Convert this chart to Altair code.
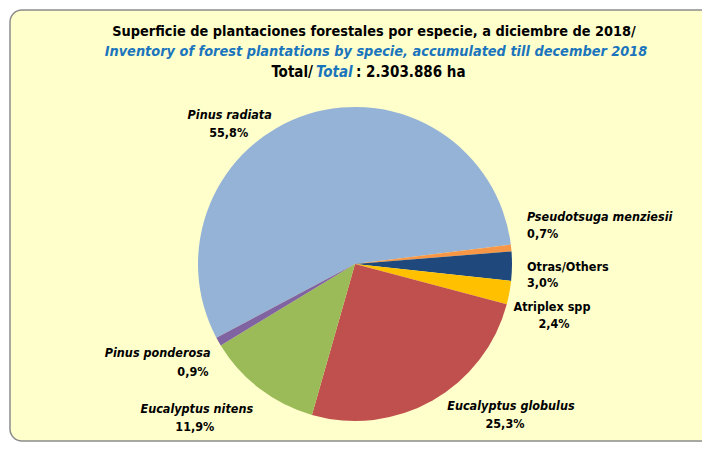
import math
import altair as alt
import pandas as pd

# ---- data ----
species = ["Pinus radiata", "Pseudotsuga menziesii", "Otras/Others", "Atriplex spp",
           "Eucalyptus globulus", "Eucalyptus nitens", "Pinus ponderosa"]
pct = [55.8, 0.7, 3.0, 2.4, 25.3, 11.9, 0.9]
pct_labels = ["55,8%", "0,7%", "3,0%", "2,4%", "25,3%", "11,9%", "0,9%"]
colors = ["#95B3D7", "#F79646", "#1F497D", "#FFC000", "#C0504D", "#9BBB59", "#8064A2"]

title_es = "Superficie de plantaciones forestales por especie, a diciembre de 2018/"
title_en = "Inventory of forest plantations by specie, accumulated till december 2018"
total_a, total_b, total_c = "Total/", "Total", ": 2.303.886 ha"

df = pd.DataFrame({"species": species, "pct": pct, "label": pct_labels,
                   "idx": list(range(len(species)))})

FONT = "DejaVu Sans Condensed"
CX, CY, R = 347, 256, 157
LS = 12.5
start = math.radians(-118)
theta_scale = alt.Scale(domain=[0, 100], range=[start, start + 2 * math.pi])

# background box
box = alt.Chart(alt.Data(values=[{}])).mark_rect(
    fill="#FFFFCC", stroke="#8C8C8C", strokeWidth=1.5, cornerRadius=12
).encode(x=alt.value(2), x2=alt.value(760), y=alt.value(2), y2=alt.value(433))

pie = alt.Chart(df).mark_arc(outerRadius=R).encode(
    theta=alt.Theta("pct:Q", stack=True, scale=theta_scale),
    color=alt.Color("species:N", scale=alt.Scale(domain=species, range=colors), legend=None),
    order=alt.Order("idx:Q"),
    x=alt.value(CX), y=alt.value(CY),
)

# label placement: (name dx, dy, align, italic), (pct dx, dy, align)
place = {
    "Pinus radiata": ((-71, 23, "center", True), (-72, 41, "center")),
    "Pseudotsuga menziesii": ((-7, -29, "left", True), (-7, -12, "left")),
    "Otras/Others": ((-8, 0, "left", False), (-8, 16, "left")),
    "Atriplex spp": ((20, 10, "center", False), (22, 27, "center")),
    "Eucalyptus globulus": ((67, -14, "center", True), (61, 4, "center")),
    "Eucalyptus nitens": ((-49, 2, "center", True), (-51, 20, "center")),
    "Pinus ponderosa": ((12, 0, "right", True), (10, 19, "right")),
}

base = alt.Chart(df).transform_window(
    cum="sum(pct)", sort=[alt.SortField("idx")], frame=[None, 0]
).transform_calculate(mid="datum.cum - datum.pct / 2")

labels = []
for sp in species:
    (ndx, ndy, nal, ital), (pdx, pdy, pal) = place[sp]
    b = base.transform_filter(alt.datum.species == sp)
    labels.append(b.mark_text(radius=180, dx=ndx, dy=ndy, align=nal, baseline="middle",
                              font=FONT, fontSize=LS, fontWeight="bold",
                              fontStyle="italic" if ital else "normal", color="#000000").encode(
        theta=alt.Theta("mid:Q", stack=None, scale=theta_scale),
        text=alt.Text("species:N"), x=alt.value(CX), y=alt.value(CY)))
    labels.append(b.mark_text(radius=180, dx=pdx, dy=pdy, align=pal, baseline="middle",
                              font=FONT, fontSize=LS, fontWeight="bold", color="#000000").encode(
        theta=alt.Theta("mid:Q", stack=None, scale=theta_scale),
        text=alt.Text("label:N"), x=alt.value(CX), y=alt.value(CY)))

one = alt.Data(values=[{}])
TS = 14.4
T3 = 15
t1 = alt.Chart(one).mark_text(text=title_es, font=FONT, fontSize=TS, fontWeight="bold",
                              align="center", baseline="middle", color="#000000").encode(
    x=alt.value(366), y=alt.value(24))
t2 = alt.Chart(one).mark_text(text=title_en, font=FONT, fontSize=TS, fontWeight="bold",
                              fontStyle="italic", align="center", baseline="middle",
                              color="#1B75BC").encode(x=alt.value(368), y=alt.value(44))
t3a = alt.Chart(one).mark_text(text=total_a, font=FONT, fontSize=T3, fontWeight="bold",
                               align="right", baseline="middle", color="#000000").encode(
    x=alt.value(305), y=alt.value(64))
t3b = alt.Chart(one).mark_text(text=total_b, font=FONT, fontSize=T3, fontWeight="bold",
                               fontStyle="italic", align="left", baseline="middle",
                               color="#1B75BC").encode(x=alt.value(308), y=alt.value(64))
t3c = alt.Chart(one).mark_text(text=total_c, font=FONT, fontSize=T3, fontWeight="bold",
                               align="left", baseline="middle", color="#000000").encode(
    x=alt.value(348), y=alt.value(64))

chart = alt.layer(box, pie, *labels, t1, t2, t3a, t3b, t3c).properties(
    width=694, height=435, padding=0, background="white",
    autosize=alt.AutoSizeParams(type="none"),
).configure_view(stroke=None)

chart.save("out.html", embed_options={"renderer": "svg", "actions": False})
